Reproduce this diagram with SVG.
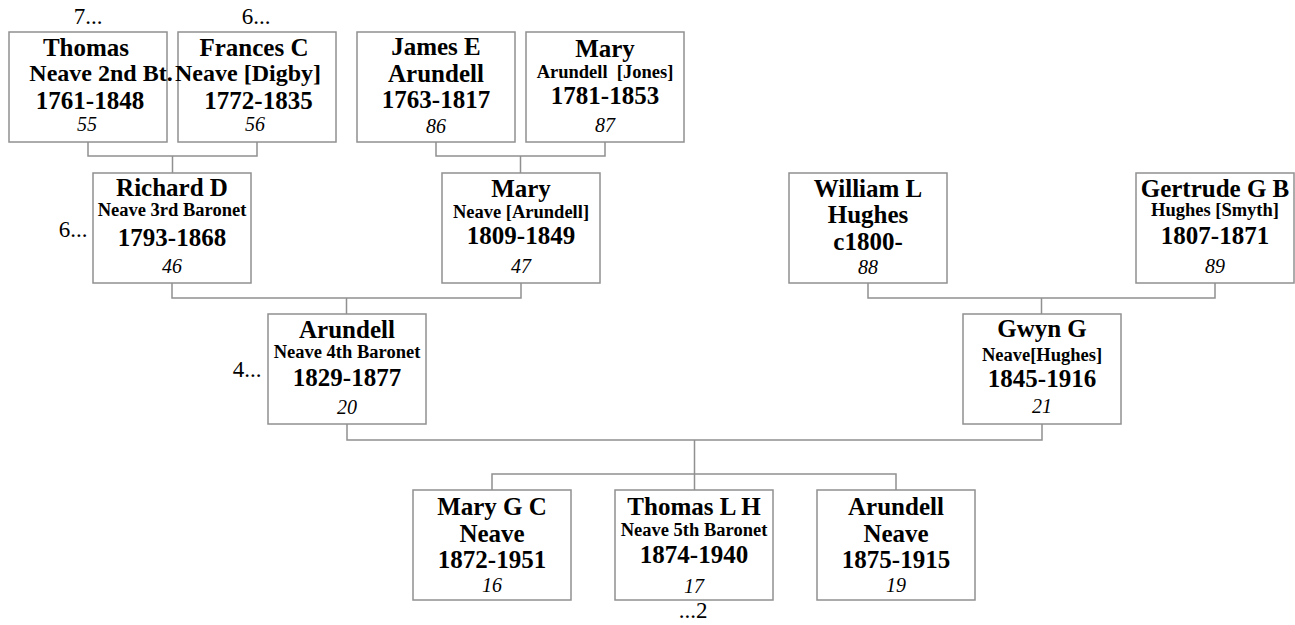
<svg xmlns="http://www.w3.org/2000/svg" width="1295" height="625" viewBox="0 0 1295 625">
<style>
rect.box{fill:#fff;stroke:#909090;stroke-width:1.5}
.conn path{fill:none;stroke:#909090;stroke-width:1.5}
text{font-family:"Liberation Serif","Times New Roman",serif;fill:#000;text-anchor:middle}
.n{font-weight:bold;font-size:25px}
.m{font-weight:bold;font-size:24px}
.s{font-weight:bold;font-size:18.5px}
.i{font-style:italic;font-size:20px}
.r{font-size:23px}
</style>
<rect width="1295" height="625" fill="#fff"/>
<g class="conn" id="connectors">
<path d="M88,142V156H257V142M172.5,156V173"/>
<path d="M436,142V156H605V142M520.5,156V173"/>
<path d="M172,283V298H521V283M346.5,298V314"/>
<path d="M868,283V298H1215V283M1041.5,298V314"/>
<path d="M347,424V440H1042V424M694.5,440V490"/>
<path d="M492,490V474H896V490"/>
</g>
<g id="n55"><rect class="box" x="9" y="32" width="158" height="110"/>
<text class="n" x="86" y="56">Thomas</text><text class="m" x="101" y="81">Neave 2nd Bt.</text><text class="n" x="90" y="109">1761-1848</text><text class="i" x="87" y="131">55</text></g>
<g id="n56"><rect class="box" x="178" y="32" width="158" height="110"/>
<text class="n" x="254" y="56">Frances C</text><text class="m" x="248" y="81">Neave [Digby]</text><text class="n" x="258.5" y="109">1772-1835</text><text class="i" x="255" y="131">56</text></g>
<g id="n86"><rect class="box" x="357" y="32" width="158" height="110"/>
<text class="n" x="436" y="55">James E</text><text class="n" x="436" y="82">Arundell</text><text class="n" x="436" y="108">1763-1817</text><text class="i" x="436" y="133">86</text></g>
<g id="n87"><rect class="box" x="526" y="32" width="158" height="110"/>
<text class="n" x="605" y="57">Mary</text><text class="s" x="605" y="78" xml:space="preserve">Arundell  [Jones]</text><text class="n" x="605" y="104">1781-1853</text><text class="i" x="605" y="132">87</text></g>
<g id="n46"><rect class="box" x="93" y="173" width="158" height="110"/>
<text class="n" x="172" y="196">Richard D</text><text class="s" x="172" y="216">Neave 3rd Baronet</text><text class="n" x="172" y="246">1793-1868</text><text class="i" x="172" y="273">46</text></g>
<g id="n47"><rect class="box" x="442" y="173" width="158" height="110"/>
<text class="n" x="521" y="197">Mary</text><text class="s" x="521" y="218">Neave [Arundell]</text><text class="n" x="521" y="244">1809-1849</text><text class="i" x="521" y="273">47</text></g>
<g id="n88"><rect class="box" x="789" y="173" width="158" height="110"/>
<text class="n" x="868" y="197">William L</text><text class="n" x="868" y="223">Hughes</text><text class="n" x="868" y="250">c1800-</text><text class="i" x="868" y="274">88</text></g>
<g id="n89"><rect class="box" x="1136" y="173" width="158" height="110"/>
<text class="n" x="1215" y="197">Gertrude G B</text><text class="s" x="1215" y="216">Hughes [Smyth]</text><text class="n" x="1215" y="244">1807-1871</text><text class="i" x="1215" y="273">89</text></g>
<g id="n20"><rect class="box" x="268" y="314" width="158" height="110"/>
<text class="n" x="347" y="338">Arundell</text><text class="s" x="347" y="358">Neave 4th Baronet</text><text class="n" x="347" y="386">1829-1877</text><text class="i" x="347" y="414">20</text></g>
<g id="n21"><rect class="box" x="963" y="314" width="158" height="110"/>
<text class="n" x="1042" y="337">Gwyn G</text><text class="s" x="1042" y="361">Neave[Hughes]</text><text class="n" x="1042" y="387">1845-1916</text><text class="i" x="1042" y="413">21</text></g>
<g id="n16"><rect class="box" x="413" y="490" width="158" height="110"/>
<text class="n" x="492" y="515">Mary G C</text><text class="n" x="492" y="542">Neave</text><text class="n" x="492" y="568">1872-1951</text><text class="i" x="492" y="592">16</text></g>
<g id="n17"><rect class="box" x="615" y="490" width="158" height="110"/>
<text class="n" x="694" y="515">Thomas L H</text><text class="s" x="694" y="536">Neave 5th Baronet</text><text class="n" x="694" y="563">1874-1940</text><text class="i" x="694" y="593">17</text></g>
<g id="n19"><rect class="box" x="817" y="490" width="158" height="110"/>
<text class="n" x="896" y="515">Arundell</text><text class="n" x="896" y="542">Neave</text><text class="n" x="896" y="568">1875-1915</text><text class="i" x="896" y="592">19</text></g>
<g id="labels">
<text class="r" x="88" y="24">7...</text>
<text class="r" x="256" y="24">6...</text>
<text class="r" x="73" y="237">6...</text>
<text class="r" x="247" y="377">4...</text>
<text class="r" x="693" y="618">...2</text>
</g>
</svg>
